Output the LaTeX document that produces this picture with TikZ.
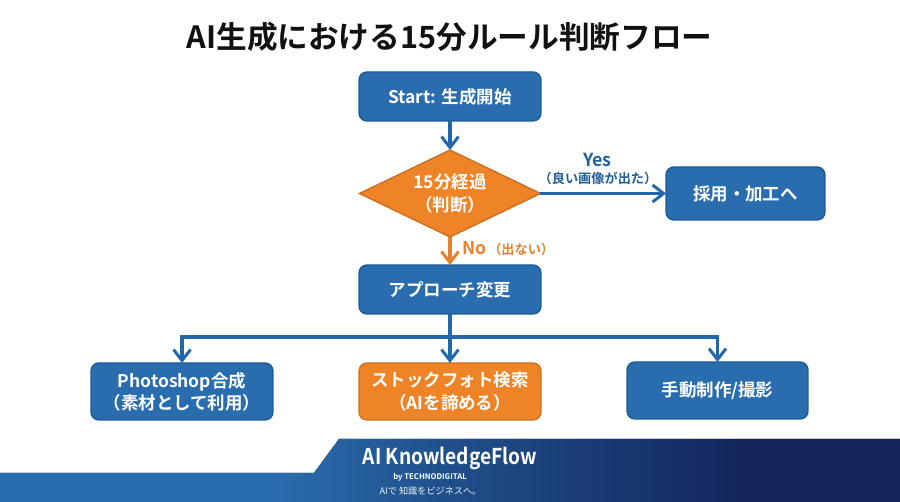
\documentclass[tikz,border=0pt]{standalone}
\usepackage{fontspec}
\setmainfont{Noto Sans CJK JP}[BoldFont={Noto Sans CJK JP Bold}]
\newfontfamily\brandfont[FakeStretch=0.88]{Noto Sans CJK JP Bold}
\usetikzlibrary{arrows.meta,shapes.geometric}
\definecolor{flowblue}{HTML}{2A6DAE}
\definecolor{flowedge}{HTML}{1D5A93}
\definecolor{flowline}{HTML}{2268A8}
\definecolor{floworange}{HTML}{EE8427}
\definecolor{flowtext}{HTML}{E5812F}
\definecolor{yestext}{HTML}{235F97}
\definecolor{titletext}{HTML}{111111}
\definecolor{bannermid}{HTML}{1F4F8A}
\definecolor{bannerdark}{HTML}{13245A}
\pgfdeclarehorizontalshading{bannershade}{100bp}{color(0bp)=(flowblue); color(40bp)=(flowblue); color(50bp)=(bannermid); color(67bp)=(bannerdark); color(100bp)=(bannerdark)}
\begin{document}
\begin{tikzpicture}[x=0.02cm, y=-0.02cm, >={Straight Barb[length=2.2mm,width=3.4mm,line width=1.7pt]},
    main node/.style={rectangle,rounded corners=0.16cm,draw=flowedge,fill=flowblue,line width=0.8pt,text=white,font=\bfseries\fontsize{9.95}{12.6}\selectfont,align=center,inner sep=0,outer sep=0},
    orange node/.style={main node,draw=floworange!85!black,fill=floworange},
    blue line/.style={draw=flowline,line width=1.8pt},
    orange line/.style={draw=flowtext,line width=1.8pt}]

    \useasboundingbox (0, 0) rectangle (900, 502);

    \node[font=\bfseries\fontsize{17.45}{20}\selectfont,text=titletext] at (449.5, 37) (title) {AI生成における15分ルール判断フロー};

    \node[main node,minimum width=3.64cm,minimum height=0.98cm] at (450, 96.5) (start) {Start: 生成開始};
    \node[orange node,shape=diamond,shape aspect=2,rounded corners=0,minimum width=3.62cm,minimum height=1.74cm] at (450, 193.5) (judge) {15分経過\\（判断）};
    \node[main node,minimum width=3.18cm,minimum height=1.06cm] at (745.5, 193.5) (adopt) {採用・加工へ};
    \node[main node,minimum width=3.64cm,minimum height=0.98cm] at (450, 289.5) (change) {アプローチ変更};
    \node[main node,minimum width=3.64cm,minimum height=1.14cm] at (182, 391.5) (photo) {Photoshop合成\\（素材として利用）};
    \node[orange node,minimum width=3.64cm,minimum height=1.14cm] at (450, 391.5) (stock) {ストックフォト検索\\（AIを諦める）};
    \node[main node,minimum width=3.62cm,minimum height=1.14cm] at (717.5, 390.5) (manual) {手動制作/撮影};

    \node[font=\bfseries\fontsize{10.2}{11}\selectfont,text=yestext] at (597.5, 159.5) (yes) {Yes};
    \node[font=\bfseries\fontsize{7.5}{9}\selectfont,text=yestext] at (598, 178) (good) {（良い画像が出た）};
    \node[font=\bfseries\fontsize{10}{11}\selectfont,text=flowtext,anchor=west,inner sep=0] at (462, 248.5) (no) {No\hspace{0.1em}{\fontsize{7.5}{9}\selectfont（出ない）}};

    \coordinate (branch) at (450, 337);

    \path[->] (start) edge[blue line] (judge);
    \path[->] (judge) edge[blue line] (adopt);
    \path[->] (judge) edge[orange line] (change);
    \path (change) edge[blue line] (branch);
    \draw[->,blue line] (branch) -| (photo);
    \path[->] (branch) edge[blue line] (stock);
    \draw[->,blue line] (branch) -| (manual);

    \fill[shading=bannershade] (0, 502) -- (0, 473) -- (314, 473) -- (339, 439) -- (900, 439) -- (900, 502) -- cycle;
    \node[font=\brandfont\fontsize{12.4}{14}\selectfont,text=white] at (450, 458) (brand) {AI KnowledgeFlow};
    \node[font=\bfseries\fontsize{4.4}{6}\selectfont,text=white] at (430, 477) (by) {by TECHNODIGITAL};
    \node[font=\fontsize{5.2}{6}\selectfont,text=white!90!flowblue] at (430.5, 491) (motto) {AIで 知識をビジネスへ。};
\end{tikzpicture}
\end{document}
